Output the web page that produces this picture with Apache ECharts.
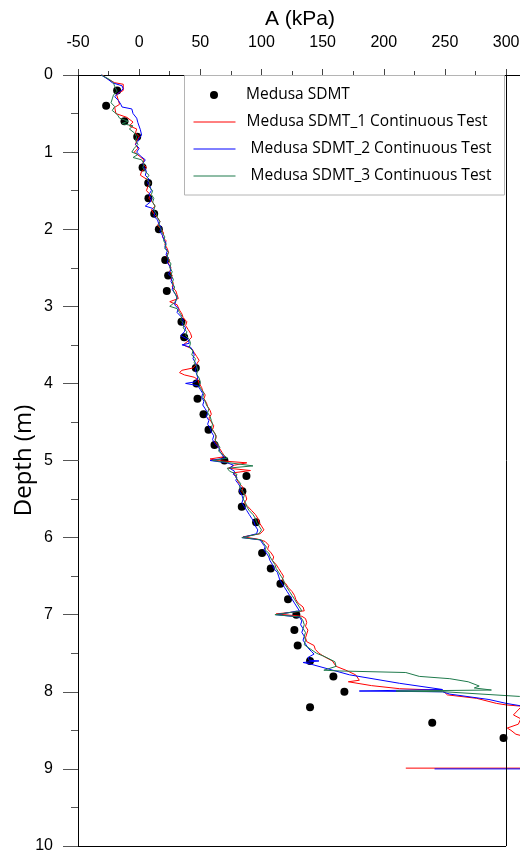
<!DOCTYPE html>
<html>
<head>
<meta charset="utf-8">
<script src="https://cdn.jsdelivr.net/npm/echarts@6/dist/echarts.min.js"></script>
<style>html,body{margin:0;padding:0;background:#fff}#c{width:520px;height:856px}</style>
</head>
<body>
<div id="c"></div>
<script>
// Axis ticks
const xTicks = [-50, 0, 50, 100, 150, 200, 250, 300];
const xMajorStep = 50, xMinorStep = 25;
const xVisibleMax = 313; // plot continues past the 300 frame beyond the page edge
const yTicks = [0, 1, 2, 3, 4, 5, 6, 7, 8, 9, 10];

// Medusa SDMT discrete points: depth (m) and A (kPa)
const sdmtDepth = [0.2,0.4,0.6,0.8,1.2,1.4,1.6,1.8,2.0,2.4,2.6,2.8,3.2,3.4,3.8,4.0,4.2,4.4,4.6,4.8,5.0,5.2,5.4,5.6,5.8,6.2,6.4,6.6,6.8,7.0,7.2,7.4,7.6,7.8,8.0,8.2,8.4,8.6];
const sdmtA = [-18,-27,-12,-1.6,2.8,7.4,7.6,12.3,16.1,21.3,23.7,22.6,34.6,36.8,46.3,46.9,47.7,52.6,56.7,61.6,69.7,87.7,84.4,83.9,95.6,100.5,107.6,115.5,121.7,128.5,126.9,129.6,139.7,158.8,167.8,139.7,239.6,297.9];

// Continuous test 1 (red): [depth, A]
const test1 = [[0,-30],[0.05,-26],[0.10,-20],[0.12,-13],[0.20,-13],[0.25,-18.5],[0.33,-17],[0.38,-16],[0.42,-20],[0.50,-19],[0.55,-10],[0.61,-5],[0.66,-8],[0.70,-2],[0.75,-3],[0.80,0],[0.85,-2],[0.90,-3],[0.95,-1],[1.00,-4],[1.05,0],[1.10,4],[1.15,3],[1.20,6],[1.25,2],[1.30,1],[1.35,6],[1.40,9],[1.45,7],[1.50,6],[1.55,9],[1.60,8],[1.65,11],[1.70,13],[1.75,10],[1.80,12],[1.85,15],[1.90,17],[1.95,15],[2.00,18],[2.05,20],[2.10,19],[2.15,22],[2.20,21],[2.25,23],[2.30,24],[2.35,22],[2.40,25],[2.45,24],[2.50,26],[2.55,25],[2.60,27],[2.65,26],[2.70,28],[2.75,27],[2.80,30],[2.85,31],[2.90,32],[2.94,25],[2.98,31],[3.05,33],[3.10,35],[3.15,36],[3.20,39],[3.25,38],[3.30,40],[3.35,42],[3.40,43],[3.45,40],[3.50,36],[3.55,43],[3.60,45],[3.65,47],[3.70,49],[3.75,47],[3.80,44],[3.83,35],[3.86,33],[3.89,37],[3.92,45],[3.95,48],[4.00,49],[4.05,51],[4.10,52],[4.15,54],[4.20,53],[4.25,55],[4.30,56],[4.35,58],[4.40,59],[4.45,57],[4.50,59],[4.55,61],[4.60,60],[4.65,62],[4.70,63],[4.75,62],[4.80,64],[4.85,66],[4.90,68],[4.95,70],[4.98,58],[5.00,63],[5.03,88],[5.06,78],[5.10,73],[5.13,91],[5.16,77],[5.20,79],[5.25,80],[5.30,82],[5.35,85],[5.40,84],[5.45,87],[5.50,88],[5.55,86],[5.60,89],[5.65,92],[5.70,95],[5.75,97],[5.80,98],[5.85,100],[5.90,102],[5.95,99],[5.99,85],[6.02,97],[6.05,103],[6.10,106],[6.15,105],[6.20,108],[6.25,110],[6.30,109],[6.35,112],[6.40,114],[6.45,116],[6.50,118],[6.55,117],[6.60,120],[6.65,122],[6.70,125],[6.75,127],[6.80,128],[6.85,130],[6.90,134],[6.95,135],[6.99,112],[7.02,133],[7.05,136],[7.10,137],[7.15,136],[7.20,138],[7.25,137],[7.30,136],[7.35,137],[7.40,143],[7.45,144],[7.50,147],[7.55,152],[7.60,158],[7.67,161],[7.72,169],[7.78,177],[7.85,180],[7.87,171],[7.92,190],[7.96,213],[7.98,248],[8.04,252],[8.085,276],[8.15,292],[8.17,300],[8.19,315],[8.20,312],[8.25,309],[8.30,306],[8.35,312],[8.42,310],[8.47,301],[8.50,304],[8.52,303],[8.55,308],[8.58,315],[8.80,330],[8.99,330],[8.99,218]];

// Continuous test 2 (blue): [depth, A]
const test2 = [[0,-31],[0.05,-26],[0.10,-22],[0.14,-14],[0.18,-13],[0.22,-16],[0.28,-20],[0.33,-17],[0.38,-15],[0.415,-14],[0.44,-6],[0.50,-5],[0.56,-2],[0.62,-1],[0.71,1],[0.78,2],[0.82,0],[0.86,-1],[0.90,-3],[0.95,0],[1.00,-2],[1.05,1],[1.10,5],[1.15,3],[1.20,4],[1.25,6],[1.30,5],[1.35,8],[1.40,7],[1.45,9],[1.50,10],[1.55,8],[1.60,10],[1.65,9],[1.70,5],[1.73,11],[1.78,13],[1.83,12],[1.88,15],[1.93,16],[1.98,18],[2.03,17],[2.08,19],[2.13,20],[2.18,22],[2.23,21],[2.28,23],[2.33,22],[2.38,24],[2.43,23],[2.48,25],[2.53,26],[2.58,24],[2.63,27],[2.68,26],[2.73,28],[2.78,27],[2.83,29],[2.88,31],[2.93,30],[2.98,29],[3.03,32],[3.08,31],[3.13,34],[3.18,36],[3.23,35],[3.28,38],[3.33,37],[3.38,34],[3.43,40],[3.48,41],[3.50,35],[3.53,42],[3.58,44],[3.63,45],[3.68,44],[3.73,46],[3.78,47],[3.83,46],[3.88,47],[3.93,48],[3.98,46],[4.00,38],[4.03,48],[4.08,50],[4.13,52],[4.18,51],[4.23,53],[4.28,52],[4.33,54],[4.38,56],[4.43,55],[4.48,57],[4.53,56],[4.58,58],[4.63,59],[4.68,61],[4.73,60],[4.78,62],[4.83,65],[4.88,66],[4.93,68],[4.97,70],[5.00,58],[5.03,72],[5.06,77],[5.10,74],[5.14,78],[5.18,77],[5.22,80],[5.26,79],[5.30,81],[5.35,83],[5.40,82],[5.45,84],[5.50,85],[5.55,84],[5.60,86],[5.65,88],[5.70,90],[5.75,92],[5.80,94],[5.85,95],[5.90,97],[5.95,96],[6.00,84],[6.03,99],[6.08,101],[6.12,103],[6.16,102],[6.20,104],[6.25,106],[6.30,107],[6.35,109],[6.40,110],[6.45,113],[6.50,114],[6.55,115],[6.60,117],[6.65,119],[6.70,121],[6.75,123],[6.80,125],[6.85,127],[6.90,129],[6.95,131],[7.00,112],[7.03,131],[7.08,133],[7.13,132],[7.18,134],[7.23,133],[7.28,135],[7.33,134],[7.38,136],[7.43,138],[7.48,141],[7.51,143],[7.555,138],[7.59,139],[7.60,147],[7.62,134],[7.64,140],[7.78,172],[7.89,213],[7.97,248],[7.99,180],[8.00,248],[8.03,254],[8.10,286],[8.15,300],[8.19,315],[8.40,330],[9.00,330],[9.00,241.5]];

// Continuous test 3 (green): [depth, A]
const test3 = [[0,-31],[0.06,-24],[0.10,-21],[0.15,-20],[0.21,-18],[0.26,-21],[0.31,-22],[0.36,-23],[0.41,-20],[0.46,-22],[0.51,-18],[0.56,-16],[0.60,-9],[0.63,-14],[0.66,-5],[0.70,-8],[0.75,-4],[0.80,-2],[0.85,-3],[0.90,-1],[0.95,-4],[1.00,-6],[1.03,-1],[1.07,-5],[1.10,2],[1.15,4],[1.20,3],[1.25,5],[1.30,8],[1.35,6],[1.40,9],[1.45,8],[1.50,11],[1.55,10],[1.60,12],[1.65,11],[1.70,13],[1.75,12],[1.80,14],[1.85,15],[1.90,17],[1.95,16],[2.00,18],[2.05,19],[2.10,21],[2.15,20],[2.20,22],[2.25,21],[2.30,24],[2.35,23],[2.40,24],[2.45,26],[2.50,25],[2.55,27],[2.60,26],[2.65,28],[2.70,27],[2.75,29],[2.80,28],[2.85,30],[2.90,31],[2.95,29],[3.00,25],[3.03,31],[3.08,33],[3.13,35],[3.18,34],[3.23,37],[3.28,36],[3.33,39],[3.38,38],[3.43,41],[3.48,42],[3.53,41],[3.58,44],[3.63,43],[3.68,46],[3.73,45],[3.78,47],[3.83,48],[3.88,47],[3.93,49],[3.98,50],[4.03,49],[4.08,51],[4.13,53],[4.18,52],[4.23,54],[4.28,55],[4.33,57],[4.38,56],[4.43,58],[4.48,59],[4.53,60],[4.58,59],[4.63,61],[4.68,63],[4.73,62],[4.78,64],[4.83,66],[4.88,65],[4.93,69],[4.97,72],[5.00,60],[5.03,74],[5.07,93],[5.10,72],[5.14,74],[5.18,80],[5.22,79],[5.26,81],[5.30,83],[5.35,82],[5.40,85],[5.45,86],[5.50,85],[5.55,87],[5.60,88],[5.65,90],[5.70,93],[5.75,95],[5.80,96],[5.85,98],[5.90,100],[5.95,98],[6.00,84],[6.03,100],[6.08,102],[6.12,104],[6.16,103],[6.20,106],[6.25,107],[6.30,109],[6.35,111],[6.40,112],[6.45,114],[6.50,116],[6.55,118],[6.60,119],[6.65,121],[6.70,123],[6.75,125],[6.80,127],[6.85,129],[6.90,131],[6.95,133],[7.00,111],[7.03,132],[7.08,134],[7.13,135],[7.18,134],[7.23,136],[7.28,135],[7.33,136],[7.39,135],[7.50,145],[7.546,152],[7.61,160],[7.67,161],[7.72,151],[7.73,164],[7.75,218],[7.80,229],[7.83,254],[7.87,269],[7.925,278],[7.95,274],[7.977,288],[7.99,210],[8.00,250],[8.06,311],[8.08,330]];

const names = ['Medusa SDMT', 'Medusa SDMT_1 Continuous Test', ' Medusa SDMT_2 Continuous Test', ' Medusa SDMT_3 Continuous Test'];
const colors = ['#000000', '#ff0000', '#0000ff', '#1f7a4c'];

const toXY = arr => arr.map(p => [p[1], p[0]]);
const sdmtData = sdmtDepth.map((d, i) => [sdmtA[i], d]);
const xMin = xTicks[0], xFrame = xTicks[xTicks.length - 1];
const yMin = yTicks[0], yMax = yTicks[yTicks.length - 1];

const chart = echarts.init(document.getElementById('c'), null, {renderer: 'canvas'});
const lineSeries = (name, data, color) => ({
  name, type: 'line', data: toXY(data), showSymbol: false, symbol: 'none',
  clip: false, lineStyle: {color, width: 1}, itemStyle: {color}, silent: true
});
const rowH = 27;
const legendText = pad => ({fontFamily: 'Open Sans', fontSize: 15.5, color: '#000', lineHeight: rowH, padding: [0, 0, 0, pad]});
chart.setOption({
  animation: false,
  textStyle: {fontFamily: 'Liberation Sans'},
  grid: {left: 78, right: -2, top: 75, bottom: 10, show: false, containLabel: false, outerBoundsMode: 'none'},
  graphic: [{type: 'rect', z: 10, shape: {x: 184.5, y: 75.5, width: 320, height: 119.5},
    style: {fill: '#fff', stroke: '#b4b4b4', lineWidth: 1}}],
  legend: [{
    z: 20, orient: 'vertical', left: 210, top: 81.5, padding: 0, itemGap: 0,
    itemWidth: 8, itemHeight: 8, selectedMode: false,
    textStyle: legendText(23), data: [names[0]]
  }, {
    z: 20, orient: 'vertical', left: 193, top: 81.5 + rowH, padding: 0, itemGap: 0,
    itemWidth: 42, itemHeight: 8, selectedMode: false,
    itemStyle: {opacity: 0}, lineStyle: {width: 1},
    textStyle: legendText(6), data: [names[1], names[2], names[3]]
  }],
  xAxis: [{
    type: 'value', position: 'top', min: xMin, max: xVisibleMax, interval: xMajorStep,
    name: 'A (kPa)', nameLocation: 'middle', nameGap: 45, nameMoveOverlap: false,
    nameTextStyle: {fontSize: 21, color: '#000', fontFamily: 'Liberation Sans'},
    axisLine: {show: true, onZero: false, lineStyle: {color: '#000', width: 1}},
    axisTick: {show: true, length: 6, lineStyle: {color: '#444', width: 1}},
    splitLine: {show: false},
    axisLabel: {margin: 24, fontSize: 16, color: '#000',
      formatter: v => (v > xFrame ? '' : String(v))}
  }, {
    type: 'value', position: 'top', min: xMin, max: xVisibleMax, interval: xMinorStep,
    axisLine: {show: true, onZero: false, lineStyle: {color: '#000', width: 1}},
    axisTick: {show: true, length: 4, lineStyle: {color: '#444', width: 1}},
    axisLabel: {show: false}, splitLine: {show: false}
  }],
  yAxis: {
    type: 'value', inverse: true, min: yMin, max: yMax, interval: 1,
    name: 'Depth (m)', nameLocation: 'middle', nameGap: 42, nameRotate: 90, nameMoveOverlap: false,
    nameTextStyle: {fontSize: 24, color: '#000', fontFamily: 'Open Sans'},
    axisLine: {onZero: false, lineStyle: {color: '#000', width: 1}},
    axisTick: {length: 15, lineStyle: {color: '#555'}},
    minorTick: {show: true, splitNumber: 2, length: 7, lineStyle: {color: '#555'}},
    splitLine: {show: false},
    axisLabel: {margin: 25, fontSize: 16, color: '#000'}
  },
  series: [
    {name: names[0], type: 'scatter', data: sdmtData, symbolSize: 8,
      itemStyle: {color: colors[0], opacity: 1}, silent: true,
      markLine: {silent: true, symbol: 'none', label: {show: false},
        lineStyle: {color: '#000', type: 'solid', width: 1},
        data: [
          [{coord: [xFrame, yMin]}, {coord: [xFrame, yMax]}],
          [{coord: [xMin, yMax]}, {coord: [xFrame, yMax]}]
        ]}},
    lineSeries(names[1], test1, colors[1]),
    lineSeries(names[2], test2, colors[2]),
    lineSeries(names[3], test3, colors[3])
  ]
});
</script>
</body>
</html>
